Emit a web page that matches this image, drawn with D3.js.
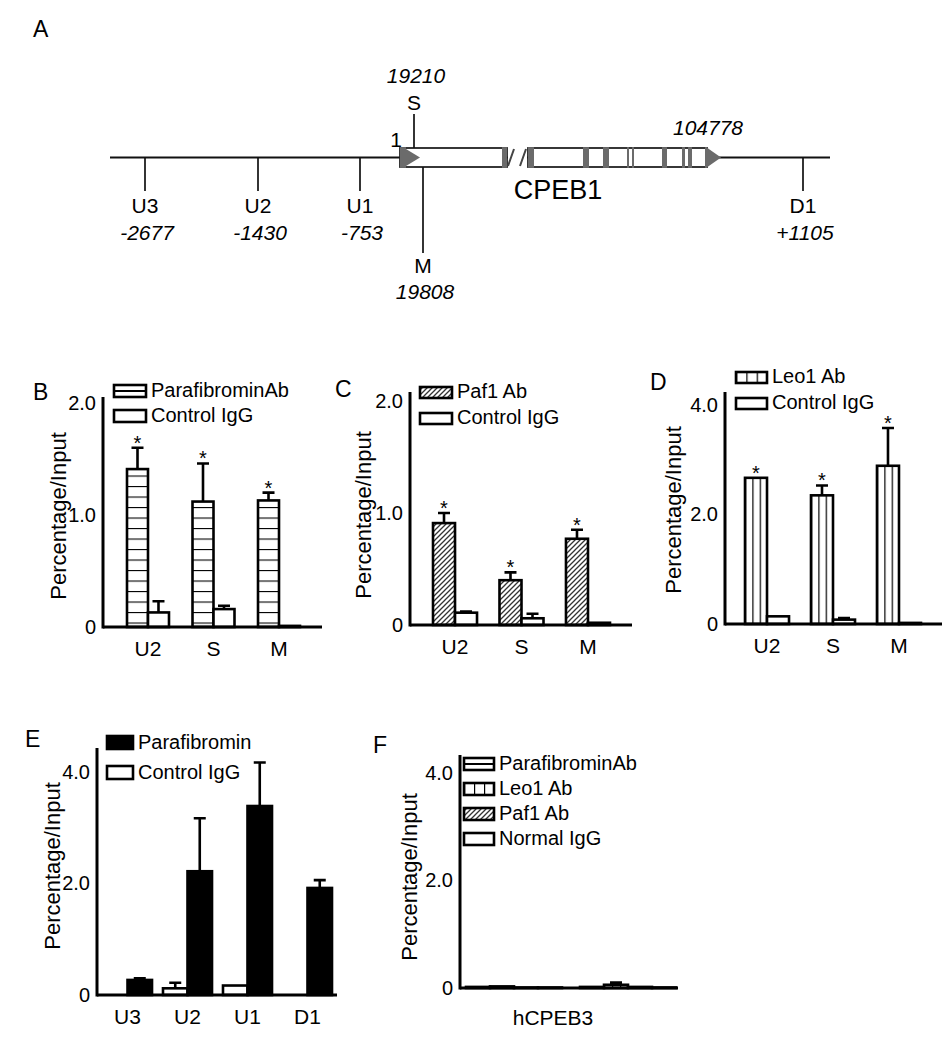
<!DOCTYPE html>
<html>
<head>
<meta charset="utf-8">
<script src="https://cdn.jsdelivr.net/npm/d3@7"></script>
<style>
  body { margin: 0; background: #fff; }
  svg { font-family: "Liberation Sans", Arial, sans-serif; }
</style>
</head>
<body>
<svg id="fig" width="946" height="1050"></svg>
<script>
// ---- panel A: primer sites on the CPEB1 locus
const siteNames = ["U3", "U2", "U1", "S", "M", "D1"];
const siteCoords = [-2677, -1430, -753, 19210, 19808, 105883];
const siteLabels = ["-2677", "-1430", "-753", "19210", "19808", "+1105"];

// ---- panel B
const bCats = ["U2", "S", "M"];
const bPara = [1.41, 1.12, 1.13];
const bParaErr = [0.19, 0.34, 0.07];
const bCtrl = [0.13, 0.16, 0.01];
const bCtrlErr = [0.10, 0.03, 0];

// ---- panel C
const cCats = ["U2", "S", "M"];
const cPaf1 = [0.91, 0.40, 0.77];
const cPaf1Err = [0.09, 0.07, 0.08];
const cCtrl = [0.11, 0.06, 0.02];
const cCtrlErr = [0.01, 0.04, 0];

// ---- panel D
const dCats = ["U2", "S", "M"];
const dLeo1 = [2.67, 2.35, 2.89];
const dLeo1Err = [0, 0.18, 0.69];
const dCtrl = [0.14, 0.08, 0.02];
const dCtrlErr = [0, 0.03, 0];

// ---- panel E
const eCats = ["U3", "U2", "U1", "D1"];
const eCtrl = [0, 0.12, 0.17, 0];
const eCtrlErr = [0, 0.10, 0, 0];
const ePara = [0.27, 2.22, 3.39, 1.92];
const eParaErr = [0.03, 0.95, 0.78, 0.14];

// ---- panel F (hCPEB3, two primer sets)
const fCats = ["set1", "set2"];
const fPara = [0.02, 0.02];
const fLeo1 = [0.03, 0.06];
const fLeo1Err = [0, 0.04];
const fPaf1 = [0.01, 0.02];
const fIgG = [0.01, 0.01];
const zeros = [0, 0, 0, 0];

const ticks2 = [0, 1, 2];
const ticks4 = [0, 2, 4];

const svg = d3.select("#fig");
const grey = "#6b6b6b";

// patterns
const defs = svg.append("defs");
const hp = defs.append("pattern").attr("id", "hstripe")
    .attr("patternUnits", "userSpaceOnUse").attr("width", 10).attr("height", 10.5).attr("y", 3);
hp.append("rect").attr("width", 10).attr("height", 10.5).attr("fill", "#fff");
hp.append("line").attr("x1", 0).attr("x2", 10).attr("y1", 0).attr("y2", 0)
    .attr("stroke", "#000").attr("stroke-width", 2.2);

const vp = defs.append("pattern").attr("id", "vstripe")
    .attr("patternUnits", "objectBoundingBox").attr("width", 1 / 3).attr("height", 1);
vp.append("rect").attr("width", 100).attr("height", 1000).attr("fill", "#fff");
vp.append("line").attr("x1", 0).attr("x2", 0).attr("y1", 0).attr("y2", 1000)
    .attr("stroke", "#000").attr("stroke-width", 2.4);

const dp = defs.append("pattern").attr("id", "hatch")
    .attr("patternUnits", "userSpaceOnUse").attr("width", 5).attr("height", 5);
dp.append("rect").attr("width", 5).attr("height", 5).attr("fill", "#fff");
dp.append("path").attr("d", "M0,5L5,0M-1,1L1,-1M4,6L6,4")
    .attr("stroke", "#333").attr("stroke-width", 1.3);

const hpF = defs.append("pattern").attr("id", "hmid")
    .attr("patternUnits", "objectBoundingBox").attr("width", 1).attr("height", 1);
hpF.append("rect").attr("width", 100).attr("height", 100).attr("fill", "#fff");
hpF.append("line").attr("x1", 0).attr("x2", 100).attr("y1", 6).attr("y2", 6)
    .attr("stroke", "#000").attr("stroke-width", 1.8);

// ================= Panel A =================
const gA = svg.append("g");
gA.append("text").attr("x", 33).attr("y", 37).attr("font-size", 23).text("A");
const geneX = d3.scaleLinear()
    .domain([-3110, -2677, -1430, -753, 1, 19210, 19808, 104778, 105883, 106200])
    .range([110, 145, 258, 360, 400, 414, 423, 721, 803, 830]);
const lineY = 157.5, boxTop = 148, boxBot = 167;

gA.append("line").attr("x1", geneX(-3110)).attr("x2", geneX(106200))
    .attr("y1", lineY).attr("y2", lineY).attr("stroke", "#111").attr("stroke-width", 2.2);

// exon boxes (schematic)
const boxes = [[geneX(1), 507], [528, 707]];
gA.selectAll(null).data(boxes).join("rect")
    .attr("x", d => d[0]).attr("y", boxTop).attr("width", d => d[1] - d[0]).attr("height", boxBot - boxTop)
    .attr("fill", "#fff").attr("stroke", "#222").attr("stroke-width", 1.8);
const bands = [[400, 406], [502, 507], [528, 534], [583, 589], [603, 609], [627, 629],
               [632, 634], [662, 667], [682, 685], [688, 692], [705, 707]];
gA.selectAll(null).data(bands).join("rect")
    .attr("x", d => d[0]).attr("y", boxTop - 0.9).attr("width", d => d[1] - d[0])
    .attr("height", boxBot - boxTop + 1.8).attr("fill", grey);
gA.append("path").attr("d", `M406,${boxTop + 1}L420,${lineY}L406,${boxBot - 1}Z`).attr("fill", grey);
gA.append("path").attr("d", `M706,${boxTop - 0.9}L${geneX(104778)},${lineY}L706,${boxBot + 0.9}Z`).attr("fill", grey);
gA.append("rect").attr("x", 508).attr("y", boxTop - 2).attr("width", 19).attr("height", boxBot - boxTop + 4).attr("fill", "#fff");
gA.selectAll(null).data([508, 520]).join("line")
    .attr("x1", d => d).attr("y1", boxBot - 1).attr("x2", d => d + 6).attr("y2", boxTop + 1)
    .attr("stroke", "#444").attr("stroke-width", 2);

const sites = siteNames.map((n, i) => ({ n, c: siteCoords[i], l: siteLabels[i] }));
sites.forEach(s => {
  const x = geneX(s.c);
  let y1, y2, ny, ly;
  if (s.n === "S") { y1 = boxTop; y2 = 114; ny = 110; ly = 83; }
  else if (s.n === "M") { y1 = boxBot; y2 = 253; ny = 273; ly = 299; }
  else { y1 = lineY; y2 = 191; ny = 213; ly = 240; }
  gA.append("line").attr("x1", x).attr("x2", x).attr("y1", y1).attr("y2", y2)
      .attr("stroke", "#111").attr("stroke-width", 1.7);
  gA.append("text").attr("x", x).attr("y", ny).attr("text-anchor", "middle")
      .attr("font-size", 21).text(s.n);
  gA.append("text").attr("x", x + 2).attr("y", ly).attr("text-anchor", "middle")
      .attr("font-size", 21).attr("font-style", "italic").text(s.l);
});
gA.append("text").attr("x", 396).attr("y", 147).attr("text-anchor", "middle").attr("font-size", 21).text("1");
gA.append("text").attr("x", 708).attr("y", 135).attr("text-anchor", "middle")
    .attr("font-size", 21).attr("font-style", "italic").text("104778");
gA.append("text").attr("x", 558).attr("y", 199).attr("text-anchor", "middle").attr("font-size", 27).text("CPEB1");

// ================= bar panels =================
const fmt = d => d === 0 ? "0" : d3.format(".1f")(d);

function drawPanel(p) {
  const g = svg.append("g");
  const y = d3.scaleLinear().domain([0, p.yMax]).range([p.base, p.topTick]);
  const x = d3.scaleBand().domain(p.cats).range(p.xRange).paddingInner(p.pad).paddingOuter(0);
  const xs = d3.scaleBand().domain(d3.range(p.series.length)).range([0, x.bandwidth()]);

  p.series.forEach((s, si) => {
    const data = p.cats.map((c, i) => ({ c, v: s.vals[i], e: s.errs[i] }));
    const cx = d => x(d.c) + xs(si) + xs.bandwidth() / 2;
    g.selectAll(null).data(data).join("rect")
        .attr("x", d => x(d.c) + xs(si)).attr("y", d => y(d.v))
        .attr("width", xs.bandwidth()).attr("height", d => p.base - y(d.v))
        .attr("fill", s.fill).attr("stroke", "#000").attr("stroke-width", 2.6);
    g.selectAll(null).data(data.filter(d => d.e > 0)).join("path")
        .attr("d", d => `M${cx(d)},${y(d.v)}V${y(d.v + d.e)}M${cx(d) - 6},${y(d.v + d.e)}H${cx(d) + 6}`)
        .attr("stroke", "#000").attr("stroke-width", 2.6).attr("fill", "none");
    if (s.star) {
      g.selectAll(null).data(data).join("text")
          .attr("x", cx).attr("y", d => y(d.v + d.e) + 2)
          .attr("text-anchor", "middle").attr("font-size", 20).text("*");
    }
  });

  // axes
  g.append("line").attr("x1", p.axisX).attr("x2", p.axisX).attr("y1", p.base + 1.5).attr("y2", p.axisTop)
      .attr("stroke", "#000").attr("stroke-width", 3);
  g.append("line").attr("x1", p.axisX).attr("x2", p.axisEnd).attr("y1", p.base).attr("y2", p.base)
      .attr("stroke", "#000").attr("stroke-width", 3);

  const ya = g.append("g").attr("transform", `translate(${p.axisX},0)`)
      .call(d3.axisLeft(y).tickValues(p.ticks).tickSize(0).tickPadding(7).tickFormat(fmt));
  ya.select(".domain").remove();
  ya.attr("font-size", 20).attr("font-family", null);

  if (p.showCats) {
    const xa = g.append("g").attr("transform", `translate(0,${p.base})`)
        .call(d3.axisBottom(x).tickSize(0).tickPadding(14));
    xa.select(".domain").remove();
    xa.attr("font-size", 21).attr("font-family", null);
  }

  g.append("text").attr("transform", `translate(${p.titleX},${p.titleY}) rotate(-90)`)
      .attr("text-anchor", "middle").attr("dy", "0.35em").attr("font-size", 22).text("Percentage/Input");

  g.append("text").attr("x", p.label[1]).attr("y", p.label[2]).attr("font-size", 23).text(p.label[0]);

  p.legend.items.forEach((it, i) => {
    const ly = p.legend.y + i * p.legend.dy;
    g.append("rect").attr("x", p.legend.x).attr("y", ly).attr("width", p.legend.w).attr("height", p.legend.h)
        .attr("fill", it.fill).attr("stroke", "#000").attr("stroke-width", 2.6);
    g.append("text").attr("x", p.legend.x + p.legend.w + 5).attr("y", ly + p.legend.h)
        .attr("font-size", 20).text(it.label);
  });
  return { g, x, y };
}

drawPanel({
  cats: bCats, xRange: [127, 300], pad: 0.359, yMax: 2, ticks: ticks2,
  base: 627, topTick: 403, axisTop: 397, axisX: 103, axisEnd: 322, showCats: true,
  titleX: 58, titleY: 516, label: ["B", 33, 400],
  series: [
    { vals: bPara, errs: bParaErr, fill: "url(#hstripe)", star: true },
    { vals: bCtrl, errs: bCtrlErr, fill: "#fff" }
  ],
  legend: { x: 114, y: 385, dy: 25, w: 32, h: 12, items: [
    { label: "ParafibrominAb", fill: "url(#hmid)" }, { label: "Control IgG", fill: "#fff" }] }
});

drawPanel({
  cats: cCats, xRange: [433, 610], pad: 0.338, yMax: 2, ticks: ticks2,
  base: 625, topTick: 401, axisTop: 392, axisX: 410, axisEnd: 632, showCats: true,
  titleX: 363, titleY: 515, label: ["C", 335, 397],
  series: [
    { vals: cPaf1, errs: cPaf1Err, fill: "url(#hatch)", star: true },
    { vals: cCtrl, errs: cCtrlErr, fill: "#fff" }
  ],
  legend: { x: 420, y: 387, dy: 26, w: 32, h: 11, items: [
    { label: "Paf1 Ab", fill: "url(#hatch)" }, { label: "Control IgG", fill: "#fff" }] }
});

drawPanel({
  cats: dCats, xRange: [745, 921], pad: 0.333, yMax: 4, ticks: ticks4,
  base: 624, topTick: 405, axisTop: 392, axisX: 725, axisEnd: 942, showCats: true,
  titleX: 673, titleY: 510, label: ["D", 650, 390],
  series: [
    { vals: dLeo1, errs: dLeo1Err, fill: "url(#vstripe)", star: true },
    { vals: dCtrl, errs: dCtrlErr, fill: "#fff" }
  ],
  legend: { x: 736, y: 372, dy: 26, w: 31, h: 11, items: [
    { label: "Leo1 Ab", fill: "url(#vstripe)" }, { label: "Control IgG", fill: "#fff" }] }
});

drawPanel({
  cats: eCats, xRange: [103, 332], pad: 0.183, yMax: 4, ticks: ticks4,
  base: 995, topTick: 772, axisTop: 748, axisX: 97, axisEnd: 337, showCats: true,
  titleX: 52, titleY: 866, label: ["E", 25, 747],
  series: [
    { vals: eCtrl, errs: eCtrlErr, fill: "#fff" },
    { vals: ePara, errs: eParaErr, fill: "#000" }
  ],
  legend: { x: 107, y: 736, dy: 30, w: 26, h: 13, items: [
    { label: "Parafibromin", fill: "#000" }, { label: "Control IgG", fill: "#fff" }] }
});

drawPanel({
  cats: fCats, xRange: [466, 676], pad: 0.158, yMax: 4, ticks: ticks4,
  base: 988, topTick: 773, axisTop: 755, axisX: 460, axisEnd: 678, showCats: false,
  titleX: 409, titleY: 877, label: ["F", 373, 753],
  series: [
    { vals: fPara, errs: zeros, fill: "url(#hstripe)" },
    { vals: fLeo1, errs: fLeo1Err, fill: "url(#vstripe)" },
    { vals: fPaf1, errs: zeros, fill: "url(#hatch)" },
    { vals: fIgG, errs: zeros, fill: "#fff" }
  ],
  legend: { x: 464, y: 758, dy: 25, w: 30, h: 12, items: [
    { label: "ParafibrominAb", fill: "url(#hmid)" }, { label: "Leo1 Ab", fill: "url(#vstripe)" },
    { label: "Paf1 Ab", fill: "url(#hatch)" }, { label: "Normal IgG", fill: "#fff" }] }
});
svg.append("text").attr("x", 553).attr("y", 1025).attr("text-anchor", "middle").attr("font-size", 21).text("hCPEB3");
</script>
</body>
</html>
